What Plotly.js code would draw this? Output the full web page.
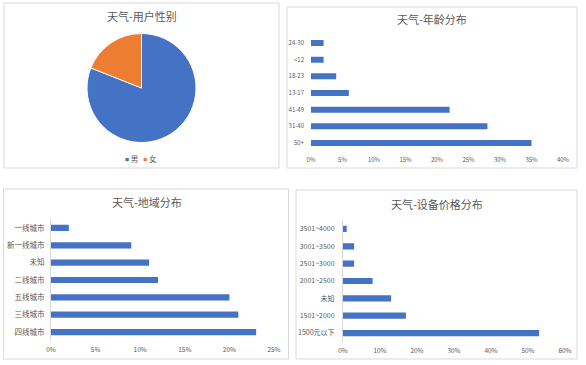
<!DOCTYPE html>
<html>
<head>
<meta charset="utf-8">
<script src="https://cdn.plot.ly/plotly-3.0.1.min.js"></script>
<style>html,body{margin:0;padding:0;background:#fff;}#chart{width:586px;height:365px;}</style>
</head>
<body>
<div id="chart"></div>
<script>
// ---- data ----
const genderLabels = ['男', '女'];
const genderValues = [81, 19];

const ageCats = ['50+', '31-40', '41-49', '13-17', '18-23', '<12', '24-30'];
const ageVals = [0.35, 0.28, 0.22, 0.06, 0.04, 0.02, 0.02];

const regionCats = ['四线城市', '三线城市', '五线城市', '二线城市', '未知', '新一线城市', '一线城市'];
const regionVals = [0.23, 0.21, 0.20, 0.12, 0.11, 0.09, 0.02];

const priceCats = ['1500元以下', '1501~2000', '未知', '2001~2500', '2501~3000', '3001~3500', '3501~4000'];
const priceVals = [0.53, 0.17, 0.13, 0.08, 0.03, 0.03, 0.01];

const titles = ['天气-用户性别', '天气-年龄分布', '天气-地域分布', '天气-设备价格分布'];

// ---- helpers ----
const W = 586, H = 365;
const px = x => x / W;
const py = y => 1 - y / H;
const FONT = '"Noto Sans CJK SC", "Noto Sans", sans-serif';
const GRAY = '#595959';
const BLUE = '#4472C4';
const ORANGE = '#ED7D31';

function barTrace(cats, vals, xa, ya) {
  return {
    type: 'bar', orientation: 'h', x: vals, y: cats,
    xaxis: xa, yaxis: ya, width: 0.36,
    marker: {color: BLUE}, hoverinfo: 'none'
  };
}

function xAxis(domain, range, dtick, anchor, size, standoff) {
  return {
    domain: domain, range: range, dtick: dtick, tick0: 0, tickformat: '.0%',
    anchor: anchor, showgrid: false, zeroline: false, showline: false, ticks: '',
    tickfont: {family: FONT, size: size, color: GRAY}, fixedrange: true,
    ticklabelstandoff: standoff
  };
}
function yAxis(domain, anchor, size, line, standoff) {
  return {
    domain: domain, range: [-0.5, 6.5], type: 'category', anchor: anchor,
    showgrid: false, zeroline: false, showline: line, linecolor: '#d9d9d9', linewidth: 1,
    ticks: '', tickfont: {family: FONT, size: size, color: GRAY}, fixedrange: true,
    ticklabelstandoff: standoff
  };
}

const data = [
  {
    type: 'pie', labels: genderLabels, values: genderValues,
    sort: false, direction: 'clockwise', rotation: 0,
    textinfo: 'none', hoverinfo: 'none',
    marker: {colors: [BLUE, ORANGE], line: {color: '#ffffff', width: 1}},
    domain: {x: [px(141.5 - 54.5), px(141.5 + 54.5)], y: [py(88 + 54.5), py(88 - 54.5)]}
  },
  barTrace(ageCats, ageVals, 'x', 'y'),
  barTrace(regionCats, regionVals, 'x2', 'y2'),
  barTrace(priceCats, priceVals, 'x3', 'y3')
];

function rect(x0, y0, x1, y1) {
  return {type: 'rect', xref: 'paper', yref: 'paper', x0: px(x0), x1: px(x1), y0: py(y1), y1: py(y0),
          line: {color: '#d9d9d9', width: 1}, fillcolor: 'rgba(0,0,0,0)', layer: 'below'};
}
function title(text, x, y) {
  return {text: text, xref: 'paper', yref: 'paper', x: px(x), y: py(y), xanchor: 'center', yanchor: 'middle',
          showarrow: false, font: {family: FONT, size: 11, color: GRAY}};
}

const layout = {
  width: W, height: H, margin: {l: 0, r: 0, t: 0, b: 0},
  paper_bgcolor: '#ffffff', plot_bgcolor: 'rgba(0,0,0,0)', showlegend: false,
  font: {family: FONT},
  xaxis: xAxis([px(311), px(563)], [0, 0.40], 0.05, 'y', 6, 4),
  yaxis: yAxis([py(151.4), py(34.6)], 'x', 6, false, 6),
  xaxis2: xAxis([px(51), px(274)], [0, 0.25], 0.05, 'y2', 6.5, 4),
  yaxis2: yAxis([py(340.7), py(219.3)], 'x2', 7.5, true, 4),
  xaxis3: xAxis([px(343), px(565)], [0, 0.60], 0.10, 'y3', 6.5, 4),
  yaxis3: yAxis([py(341.7), py(220.3)], 'x3', 7, true, 6),
  shapes: [
    rect(4, 3, 279, 168),
    rect(287, 7, 577, 168),
    rect(3.5, 189, 288.5, 359),
    rect(296, 190, 577, 359)
  ],
  annotations: [
    title(titles[0], 142, 16),
    title(titles[1], 432, 19),
    title(titles[2], 147, 202),
    title(titles[3], 437, 204),
    {
      text: '<span style="color:' + BLUE + ';font-size:4px">■</span> ' + genderLabels[0] +
            '   <span style="color:' + ORANGE + ';font-size:4px">■</span> ' + genderLabels[1],
      xref: 'paper', yref: 'paper', x: px(141), y: py(158), xanchor: 'center', yanchor: 'middle',
      showarrow: false, font: {family: FONT, size: 7.5, color: GRAY}
    }
  ]
};

Plotly.newPlot('chart', data, layout, {staticPlot: true, displayModeBar: false});
</script>
</body>
</html>
